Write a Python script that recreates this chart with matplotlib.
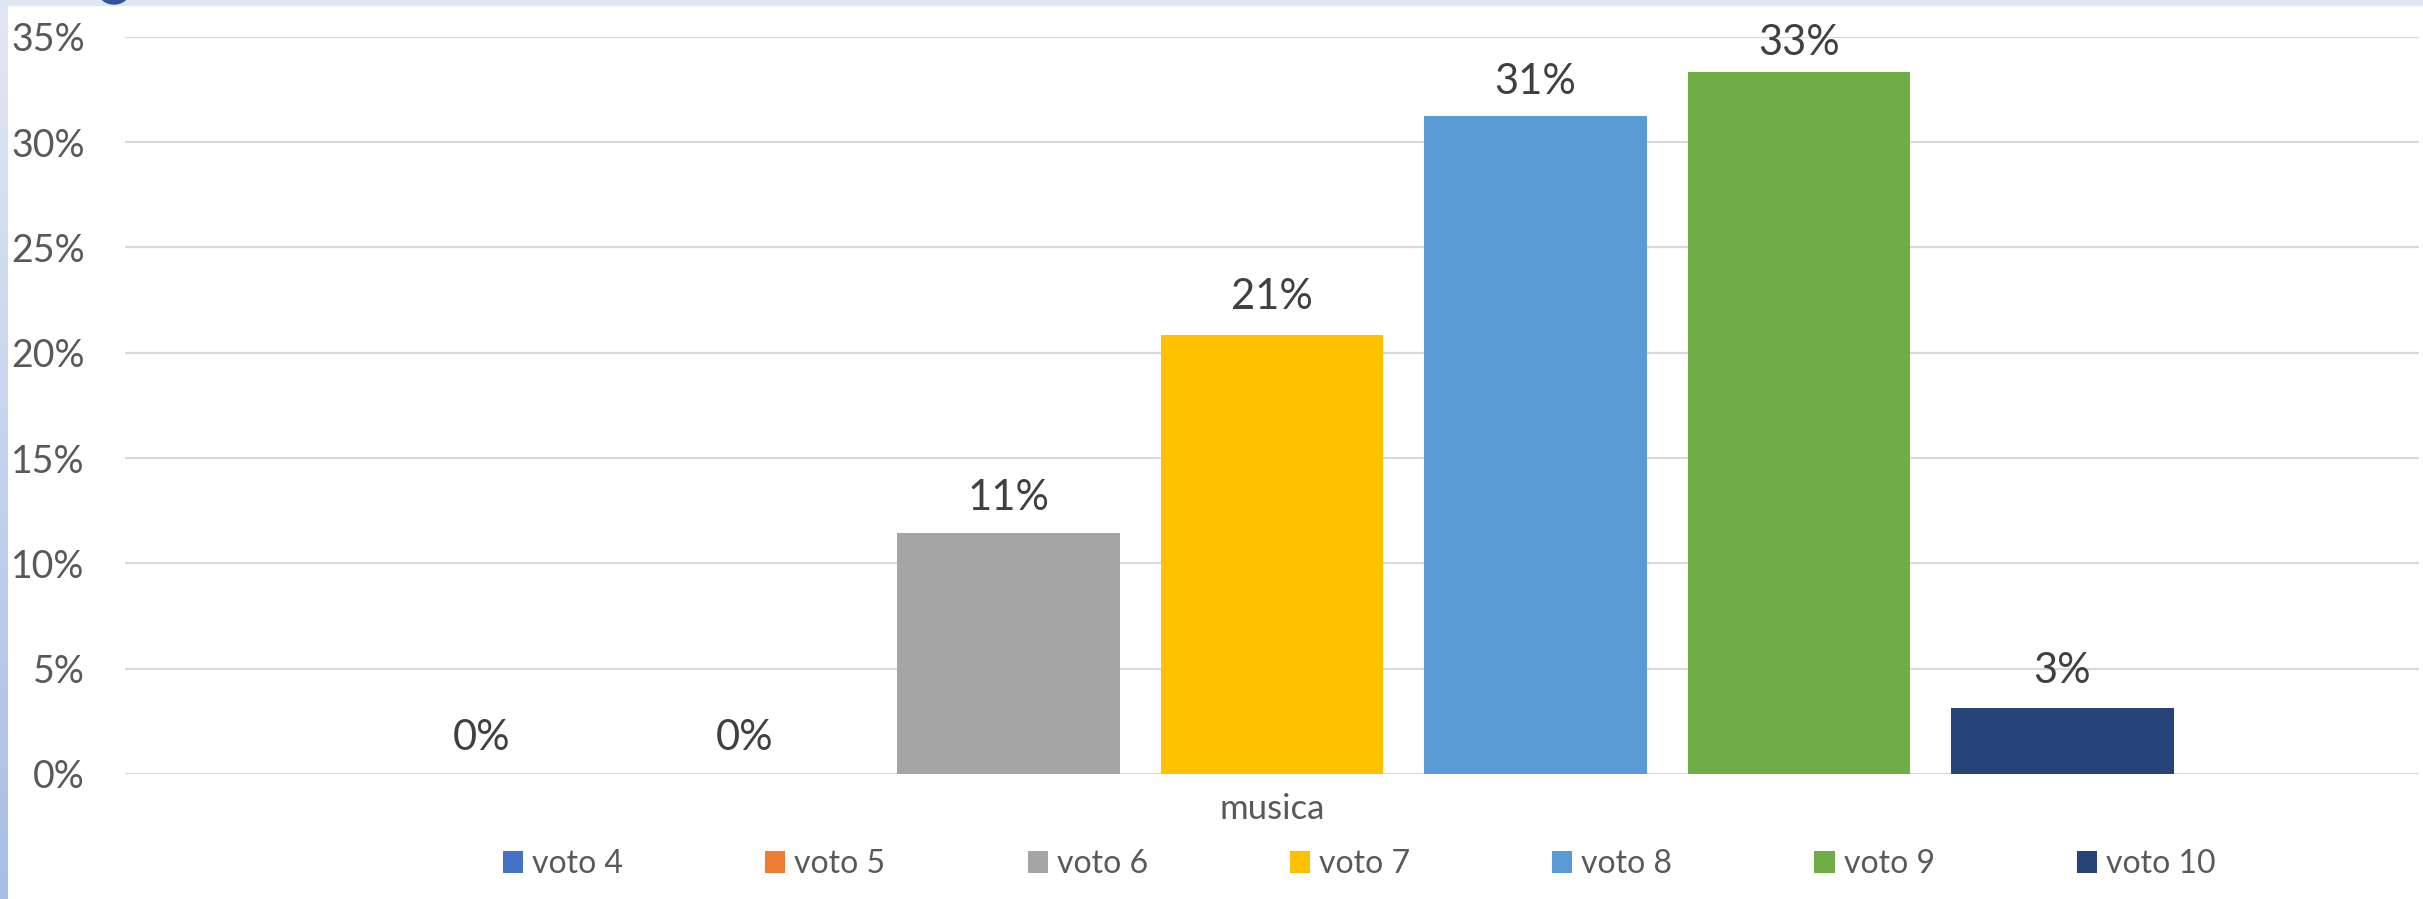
import numpy as np
import matplotlib
matplotlib.use("Agg")
import matplotlib.pyplot as plt
from matplotlib.patches import Rectangle, Ellipse
from matplotlib.ticker import PercentFormatter

# data
category = "musica"
series = ["voto 4", "voto 5", "voto 6", "voto 7", "voto 8", "voto 9", "voto 10"]
values = [0.0, 0.0, 0.1146, 0.2083, 0.3125, 0.3333, 0.03125]
labels = ["0%", "0%", "11%", "21%", "31%", "33%", "3%"]
colors = ["#4472C4", "#ED7D31", "#A5A5A5", "#FFC000", "#5B9BD5", "#70AD47", "#264478"]
label_pad = [12, 12, 11, 14, 10.5, 7, 13]  # excel nudges the labels a bit

plt.rcParams["font.family"] = ["Lato", "DejaVu Sans"]

W, H = 2423, 899
fig = plt.figure(figsize=(W / 100, H / 100), dpi=100)
fig.patch.set_facecolor("white")

# frame decoration: light band on top, gradient strip on the left
fig.patches.append(Rectangle((0, 1 - 5 / H), 1, 5 / H, transform=fig.transFigure,
                             color="#dfe6f3", zorder=0))
grad = np.linspace(0, 1, 256).reshape(-1, 1)
gax = fig.add_axes([0, 0, 8 / W, 1])
gax.imshow(grad, aspect="auto", cmap=matplotlib.colors.LinearSegmentedColormap.from_list(
    "strip", ["#e2e8f4", "#a8bee6"]), extent=[0, 1, 0, 1], origin="upper")
gax.axis("off")
fig.patches.append(Ellipse((114 / W, 1 + 8 / H), 30 / W, 24 / H, transform=fig.transFigure,
                           color="#2f5597", zorder=1))

ax = fig.add_axes([125 / W, 1 - 774 / H, (2419 - 125) / W, (774 - 36.7) / H])
n = len(series)
x = np.arange(n) - (n - 1) / 2
for i in range(n):
    b = ax.bar(x[i], values[i], width=0.846, color=colors[i], label=series[i], zorder=2)
    ax.bar_label(b, labels=[labels[i]], padding=label_pad[i], fontsize=30, color="#404040")

ax.set_xlim(-4.353, 4.353)
ax.set_ylim(0, 0.35)
ax.set_yticks(np.arange(0, 0.351, 0.05))
ax.yaxis.set_major_formatter(PercentFormatter(1.0, decimals=0))
ax.grid(axis="y", color="#d9d9d9", linewidth=1.6, zorder=0)
ax.set_axisbelow(True)
for s in ax.spines.values():
    s.set_visible(False)
ax.tick_params(axis="y", length=0, pad=29, labelsize=27, labelcolor="#595959")
ax.set_xticks([0])
ax.set_xticklabels([category])
ax.tick_params(axis="x", length=0, pad=14, labelsize=25, labelcolor="#595959")

leg = fig.legend(loc="center left", bbox_to_anchor=(487 / W, 1 - 864 / H), ncol=n,
                 frameon=False, fontsize=23, borderpad=0, handlelength=0.63,
                 handleheight=0.66, handletextpad=0.28, columnspacing=4.45)
for t in leg.get_texts():
    t.set_color("#595959")

fig.savefig("out.png", dpi=100)
